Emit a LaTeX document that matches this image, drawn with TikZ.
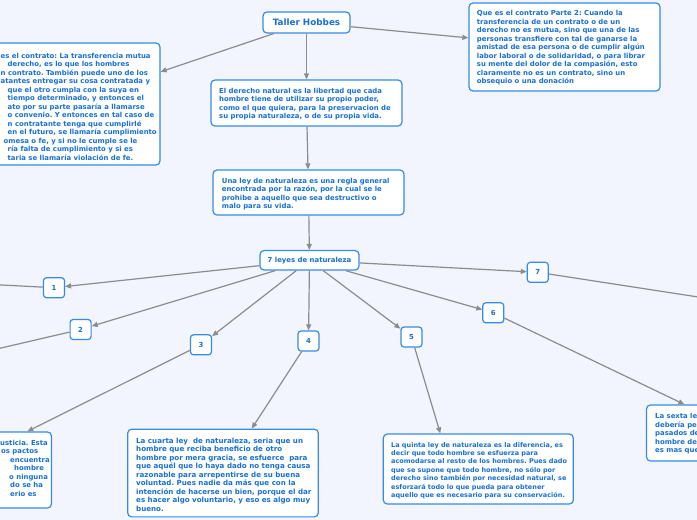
\documentclass[tikz,border=0pt]{standalone}
\usepackage{fontspec}
\setmainfont{DejaVu Sans}
\usetikzlibrary{arrows.meta}
\definecolor{bgc}{RGB}{242,245,253}
\definecolor{bdr}{RGB}{52,140,232}
\definecolor{tc}{RGB}{24,112,212}
\definecolor{lc}{RGB}{140,140,140}
\frenchspacing
\tikzset{
 box/.style={draw=bdr, fill=white, line width=1.2pt, rounded corners=4pt, inner sep=0pt},
 numbox/.style={box, minimum width=21pt, minimum height=20pt, text=tc, font=\bfseries\fontsize{6.9}{8.5}\selectfont, rounded corners=3pt},
 txt/.style={anchor=west, inner sep=0pt, align=left, text=tc, font=\bfseries\fontsize{6.9}{8.5}\selectfont},
 conn/.style={draw=lc, line width=1.2pt, -{Triangle[length=6pt,width=5pt]}},
}
\begin{document}
\begin{tikzpicture}[x=1pt,y=-1pt]
\useasboundingbox (0,0) rectangle (697,520);
\fill[bgc] (0,0) rectangle (697,520);
\clip (0,0) rectangle (697,520);

% main boxes
\node[box, minimum width=87pt, minimum height=21pt, text=tc, font=\bfseries\fontsize{8.8}{10}\selectfont] (th) at (306.5,22.5) {Taller Hobbes};
\node[box, minimum width=190pt, minimum height=122pt] (lt) at (65,104) {};
\node[box, minimum width=191pt, minimum height=46pt] (c1) at (306.5,103) {};
\node[box, minimum width=191pt, minimum height=88pt] (rt) at (564.5,47) {};
\node[box, minimum width=191pt, minimum height=45pt] (b2) at (308.5,192.5) {};
\node[box, minimum width=99pt, minimum height=19.5pt, text=tc, font=\bfseries\fontsize{6.9}{8.5}\selectfont] (leyes) at (309.5,260.3) {7 leyes de naturaleza};

\node[numbox] (n1) at (54,287.7) {1};
\node[numbox] (n2) at (80.6,329.5) {2};
\node[numbox] (n3) at (201,344.8) {3};
\node[numbox] (n4) at (308.5,341) {4};
\node[numbox] (n5) at (411.5,337) {5};
\node[numbox] (n6) at (493.3,312.8) {6};
\node[numbox] (n7) at (537.8,272.3) {7};

\node[box, minimum width=203pt, minimum height=76pt] (bl) at (-50,470) {};
\node[box, minimum width=190.6pt, minimum height=87.7pt] (b4) at (223,473) {};
\node[box, minimum width=190pt, minimum height=70pt] (b5) at (478.3,469) {};
\node[box, minimum width=195pt, minimum height=56pt] (b6) at (744,433) {};

\coordinate (e1) at (-60,281.8);
\coordinate (e2) at (-60,362.2);
\coordinate (e7) at (760,306.5);

% texts
\node[txt] (tlt) at (0.5,106.7) {es el contrato: La transferencia mutua\\
\hspace*{7pt}derecho, es lo que los hombres\\
n contrato. También puede uno de los\\
atantes entregar su cosa contratada y\\
\hspace*{7pt}que el otro cumpla con la suya en\\
\hspace*{7pt}tiempo determinado, y entonces el\\
\hspace*{7pt}ato por su parte pasaría a llamarse\\
\hspace*{7pt}o convenio. Y entonces en tal caso de\\
\hspace*{7pt}n contratante tenga que cumplirlé\\
\hspace*{7pt}en el futuro, se llamaría cumplimiento\\
\hspace*{3pt}omesa o fe, y si no le cumple se le\\
\hspace*{7pt}ría falta de cumplimiento y si es\\
\hspace*{7pt}taria se llamaría violación de fe.};

\node[txt] (tc1) at (219,104.2) {El derecho natural es la libertad que cada\\
hombre tiene de utilizar su propio poder,\\
como el que quiera, para la preservacion de\\
su propia naturaleza, o de su propia vida.};

\node[txt] (trt) at (476.7,47.9) {Que es el contrato Parte 2: Cuando la\\
transferencia de un contrato o de un\\
derecho no es mutua, sino que una de las\\
personas transfiere con tal de ganarse la\\
amistad de esa persona o de cumplir algún\\
labor laboral o de solidaridad, o para librar\\
su mente del dolor de la compasión, esto\\
claramente no es un contrato, sino un\\
obsequio o una donación};

\node[txt] (tb2) at (221.7,194.2) {Una ley de naturaleza es una regla general\\
encontrada por la razón, por la cual se le\\
prohibe a aquello que sea destructivo o\\
malo para su vida.};

\node[txt] (tbl) at (0,468.4) {usticia. Esta\\
\hspace*{1pt}os pactos\\
\hspace*{10pt}encuentra\\
\hspace*{14pt}hombre\\
\hspace*{9pt}o ninguna\\
\hspace*{10pt}do se ha\\
\hspace*{10pt}erio es};

\node[txt, font=\bfseries\fontsize{7.1}{8.5}\selectfont] (tb4) at (136,474.4) {La cuarta ley\ \ de naturaleza, seria que un\\
hombre que reciba beneficio de otro\\
hombre por mera gracia, se esfuerce\ \ para\\
que aquél que lo haya dado no tenga causa\\
razonable para arrepentirse de su buena\\
voluntad. Pues nadie da más que con la\\
intención de hacerse un bien, porque el dar\\
es hacer algo voluntario, y eso es algo muy\\
bueno.};

\node[txt, font=\bfseries\fontsize{6.5}{8.35}\selectfont] (tb5) at (391,470.5) {La quinta ley de naturaleza es la diferencia, es\\
decir que todo hombre se esfuerza para\\
acomodarse al resto de los hombres. Pues dado\\
que se supone que todo hombre, no sólo por\\
derecho sino también por necesidad natural, se\\
esforzará todo lo que pueda para obtener\\
aquello que es necesario para su conservación.};

\node[txt] (tb6) at (655,434) {La sexta ley\\
debería per\\
pasados de\\
hombre deb\\
es mas que};

% connectors
\draw[conn] (th) -- (lt);
\draw[conn] (th) -- (c1);
\draw[conn] (th) -- (rt);
\draw[conn] (c1) -- (b2);
\draw[conn] (b2) -- (leyes);
\draw[conn] (leyes) -- (n1);
\draw[conn] (leyes) -- (n2);
\draw[conn] (leyes) -- (n3);
\draw[conn] (leyes) -- (n4);
\draw[conn] (leyes) -- (n5);
\draw[conn] (leyes) -- (n6);
\draw[conn] (leyes) -- (n7);
\draw[conn] (n1) -- (e1);
\draw[conn] (n2) -- (e2);
\draw[conn] (n7) -- (e7);
\draw[conn] (n3) -- (bl);
\draw[conn] (n4) -- (b4);
\draw[conn] (n5) -- ([xshift=-38pt]b5.north);
\draw[conn] (n6) -- (b6);
\end{tikzpicture}
\end{document}
